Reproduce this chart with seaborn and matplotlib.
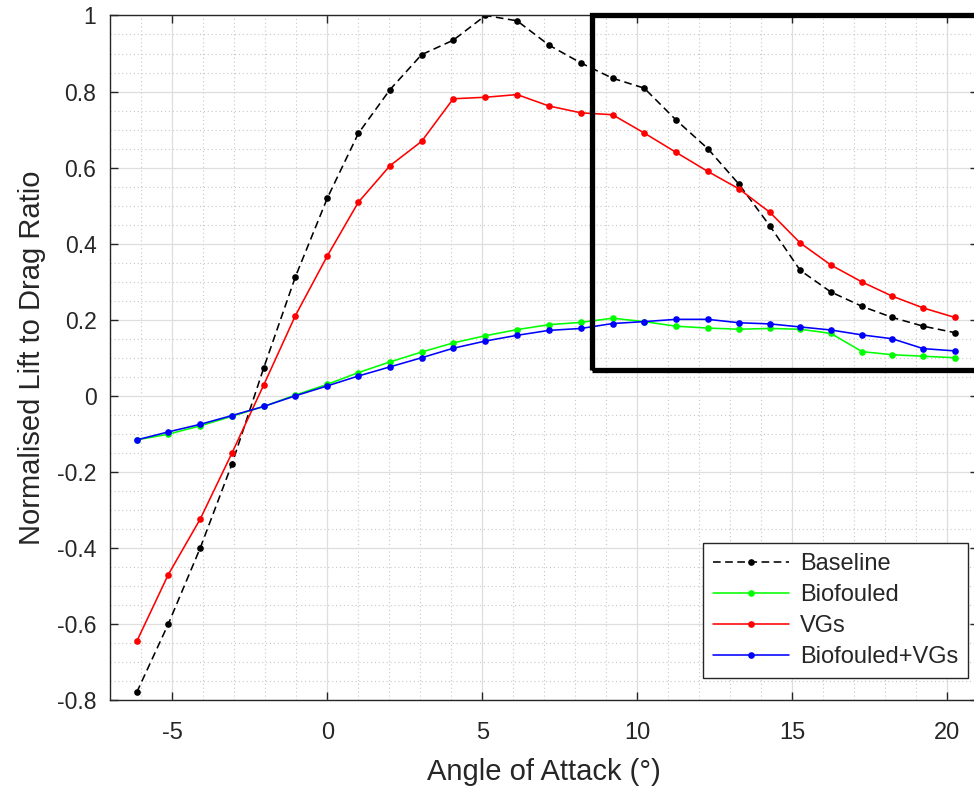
import numpy as np
import pandas as pd
import seaborn as sns
import matplotlib
matplotlib.use('Agg')
import matplotlib.pyplot as plt
from matplotlib.ticker import MultipleLocator, FuncFormatter
from matplotlib.patches import Rectangle

# Data
angle = [-6.15, -5.13, -4.1, -3.08, -2.05, -1.03, 0.0, 1.0, 2.02, 3.04, 4.06, 5.1, 6.12, 7.15,
         8.18, 9.2, 10.22, 11.25, 12.27, 13.28, 14.28, 15.25, 16.24, 17.25, 18.22, 19.22, 20.24]

baseline = [-0.78, -0.60, -0.40, -0.18, 0.074, 0.313, 0.52, 0.69, 0.805, 0.897, 0.935, 1.0, 0.986,
            0.922, 0.875, 0.835, 0.809, 0.725, 0.65, 0.556, 0.446, 0.33, 0.273, 0.235, 0.206, 0.183, 0.166]

biofouled = [-0.116, -0.101, -0.079, -0.054, -0.028, 0.002, 0.03, 0.061, 0.089, 0.115, 0.139, 0.158,
             0.174, 0.187, 0.193, 0.204, 0.195, 0.183, 0.178, 0.175, 0.177, 0.175, 0.164, 0.116, 0.108,
             0.104, 0.1]

vgs = [-0.646, -0.47, -0.324, -0.151, 0.029, 0.211, 0.368, 0.509, 0.605, 0.669, 0.781, 0.785, 0.792,
       0.762, 0.744, 0.739, 0.691, 0.64, 0.59, 0.544, 0.482, 0.402, 0.344, 0.299, 0.262, 0.231, 0.206]

bio_vgs = [-0.116, -0.095, -0.075, -0.052, -0.028, 0.0, 0.026, 0.052, 0.076, 0.1, 0.125, 0.144, 0.159,
           0.172, 0.177, 0.19, 0.195, 0.201, 0.201, 0.192, 0.189, 0.181, 0.173, 0.16, 0.15, 0.124, 0.118]

series_names = ['Baseline', 'Biofouled', 'VGs', 'Biofouled+VGs']
series_values = [baseline, biofouled, vgs, bio_vgs]
series_colors = ['black', '#00ff00', '#ff0000', '#0000ff']

sns.set_style('ticks')
plt.rcParams['font.family'] = ['Liberation Sans', 'DejaVu Sans']
plt.rcParams['axes.unicode_minus'] = False

fig = plt.figure(figsize=(9.74, 7.86), dpi=100)
ax = fig.add_axes([0.1133, 0.1094, 0.8912, 0.8709])

for name, vals, col in zip(series_names, series_values, series_colors):
    ls = (0, (4.8, 2.8)) if name == 'Baseline' else '-'
    sns.lineplot(x=angle, y=vals, ax=ax, color=col, linewidth=1.15, linestyle=ls,
                 marker='o', markersize=4.8, markeredgewidth=0, label=name,
                 estimator=None, sort=False)

ax.set_xlim(-7, 21)
ax.set_ylim(-0.8, 1.0)
ax.xaxis.set_major_locator(MultipleLocator(5))
ax.xaxis.set_minor_locator(MultipleLocator(1))
ax.yaxis.set_major_locator(MultipleLocator(0.2))
ax.yaxis.set_minor_locator(MultipleLocator(0.05))
ax.yaxis.set_major_formatter(FuncFormatter(lambda v, p: f'{v:g}' if abs(v) > 1e-9 else '0'))

ax.grid(which='major', color='#dedede', linewidth=0.9, linestyle='-')
ax.grid(which='minor', color='#c8c8c8', linewidth=0.8, linestyle=(0, (1, 2.5)))
ax.set_axisbelow(True)

ax.tick_params(which='major', direction='in', length=6, width=1.0, top=True, right=True,
               color='#262626', labelcolor='#262626')
ax.tick_params(axis='x', which='major', labelsize=17, pad=16)
ax.tick_params(axis='y', which='major', labelsize=16.5, pad=10)
ax.tick_params(which='minor', length=0)
for s in ax.spines.values():
    s.set_color('#262626')
    s.set_linewidth(1.0)

ax.set_xlabel('Angle of Attack (°)', fontsize=21, color='#262626', labelpad=10)
ax.set_ylabel('Normalised Lift to Drag Ratio', fontsize=21, color='#262626', labelpad=8)

# highlight box
rect = Rectangle((8.55, 0.0686), 20, 0.9314, fill=False, edgecolor='black',
                 linewidth=3.8, clip_on=False, zorder=5)
ax.add_patch(rect)

leg = ax.legend(loc='lower right', bbox_to_anchor=(0.988, 0.032), borderaxespad=0,
                fontsize=17, frameon=True, fancybox=False, framealpha=1,
                edgecolor='#262626', handlelength=3.2, labelspacing=0.38,
                borderpad=0.42, handletextpad=0.47)
leg.get_frame().set_linewidth(1.0)
leg.set_zorder(10)

fig.savefig('out.png', dpi=100)
